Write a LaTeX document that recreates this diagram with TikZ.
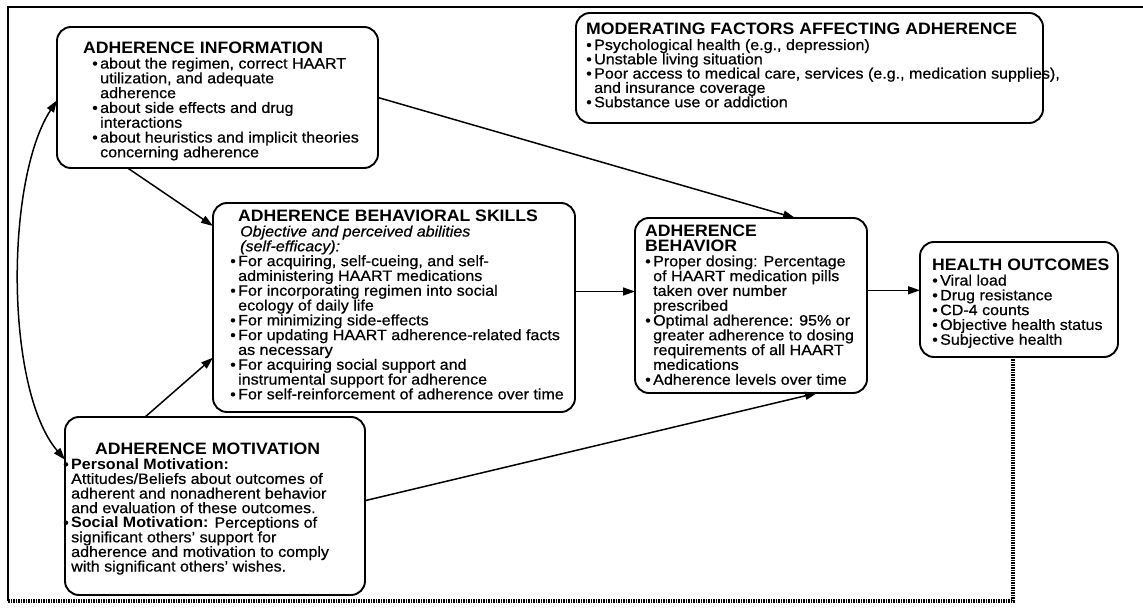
\documentclass[tikz,border=0pt]{standalone}
\usepackage{fontspec}
\setmainfont{Liberation Sans}[FakeStretch=1.07, UprightFeatures={FakeBold=0.6}, ItalicFeatures={FakeBold=0.6}]
\usetikzlibrary{arrows.meta,calc}
\newcommand{\bul}{\makebox[8pt][l]{\textbullet}}
\newcommand{\ind}{\hspace*{8pt}}
\newcommand{\ttl}[1]{{\fontsize{16.5}{14.8}\selectfont\bfseries #1}}
\begin{document}
\begin{tikzpicture}[x=1pt,y=-1pt,
  boxnode/.style={draw, line width=1.9pt, rounded corners=14pt, inner sep=0pt, outer sep=0pt, anchor=north west},
  txt/.style={anchor=north west, inner sep=0pt, align=left, font=\fontsize{15}{14.8}\selectfont},
  arr/.style={line width=1.5pt, -{Triangle[length=12pt,width=8pt]}},
  darr/.style={line width=1.5pt, {Triangle[length=12pt,width=8pt]}-{Triangle[length=12pt,width=8pt]}},
  fb/.style={line width=3.5pt, dash pattern=on 1.5pt off 1pt},
  frame/.style={line width=2.6pt}]
\useasboundingbox (0,0) rectangle (1143,609);
\fill[white] (0,0) rectangle (1143,609);
% frame
\draw[frame] (8,601) -- (8,7) -- (1143,7);

% boxes
\node[boxnode, minimum width=321pt, minimum height=141pt] (info) at (57,27) {};
\node[boxnode, minimum width=362pt, minimum height=209pt] (skills) at (213,203) {};
\node[boxnode, minimum width=467pt, minimum height=110pt] (moder) at (576,13) {};
\node[boxnode, minimum width=232pt, minimum height=175pt] (behav) at (635,218) {};
\node[boxnode, minimum width=198pt, minimum height=115pt] (health) at (920,242) {};
\node[boxnode, minimum width=300pt, minimum height=178pt] (motiv) at (65,417) {};

% texts
\node[txt] (infoT) at (83,42) {\ttl{ADHERENCE INFORMATION}\\
\hspace*{9pt}\bul about the regimen, correct HAART\\
\hspace*{9pt}\ind utilization, and adequate\\
\hspace*{9pt}\ind adherence\\
\hspace*{9pt}\bul about side effects and drug\\
\hspace*{9pt}\ind interactions\\
\hspace*{9pt}\bul about heuristics and implicit theories\\
\hspace*{9pt}\ind concerning adherence};

\node[txt] (skillsT) at (230,210) {\hspace*{8pt}\ttl{ADHERENCE BEHAVIORAL SKILLS}\\
\hspace*{10pt}\textit{Objective and perceived abilities}\\
\hspace*{10pt}\textit{(self-efficacy):}\\
\bul For acquiring, self-cueing, and self-\\
\ind administering HAART medications\\
\bul For incorporating regimen into social\\
\ind ecology of daily life\\
\bul For minimizing side-effects\\
\bul For updating HAART adherence-related facts\\
\ind as necessary\\
\bul For acquiring social support and\\
\ind instrumental support for adherence\\
\bul For self-reinforcement of adherence over time};

\node[txt, font=\fontsize{15}{14.3}\selectfont] (moderT) at (586,23) {\ttl{MODERATING FACTORS AFFECTING ADHERENCE}\\[1pt]
\bul Psychological health (e.g., depression)\\
\bul Unstable living situation\\
\bul Poor access to medical care, services (e.g., medication supplies),\\
\ind and insurance coverage\\
\bul Substance use or addiction};

\node[txt] (behavT) at (645,225) {\ttl{ADHERENCE}\\
\ttl{BEHAVIOR}\\
\bul Proper dosing: Percentage\\
\ind of HAART medication pills\\
\ind taken over number\\
\ind prescribed\\
\bul Optimal adherence: 95\% or\\
\ind greater adherence to dosing\\
\ind requirements of all HAART\\
\ind medications\\
\bul Adherence levels over time};

\node[txt] (healthT) at (932,259) {\ttl{HEALTH OUTCOMES}\\
\bul Viral load\\
\bul Drug resistance\\
\bul CD-4 counts\\
\bul Objective health status\\
\bul Subjective health};

\node[txt, font=\fontsize{15}{14.6}\selectfont] (motivT) at (63,443) {\hspace*{32pt}\ttl{ADHERENCE MOTIVATION}\\
\bul\textbf{Personal Motivation:}\\
\ind Attitudes/Beliefs about outcomes of\\
\ind adherent and nonadherent behavior\\
\ind and evaluation of these outcomes.\\
\bul\textbf{Social Motivation:} Perceptions of\\
\ind significant others' support for\\
\ind adherence and motivation to comply\\
\ind with significant others' wishes.};

% connectors
\draw[arr] ($(info.south west)!0.22!(info.south east)$) -- ($(skills.north west)!0.11!(skills.south west)$);
\draw[arr] ($(info.north east)!0.5!(info.south east)$) -- ($(behav.north west)!0.69!(behav.north east)$);
\coordinate (b1) at ($(behav.north west)!0.42!(behav.south west)$);
\draw[arr] (skills.east |- b1) -- (b1);
\coordinate (h1) at ($(health.north west)!0.42!(health.south west)$);
\draw[arr] (behav.east |- h1) -- (h1);
\draw[arr] ($(motiv.north west)!0.267!(motiv.north east)$) -- ($(skills.north west)!0.74!(skills.south west)$);
\draw[arr] ($(motiv.north east)!0.47!(motiv.south east)$) -- ($(behav.south west)!0.785!(behav.south east)$);
\draw[darr] ($(info.north west)!0.52!(info.south west)$) .. controls (5,180) and (5,390) .. ($(motiv.north west)!0.24!(motiv.south west)$);
% feedback
\coordinate (hb) at ($(health.south west)!0.47!(health.south east)$);
\coordinate (fbend) at (8,601);
\draw[fb] (hb) -- (hb |- fbend) -- (fbend);
\end{tikzpicture}
\end{document}
